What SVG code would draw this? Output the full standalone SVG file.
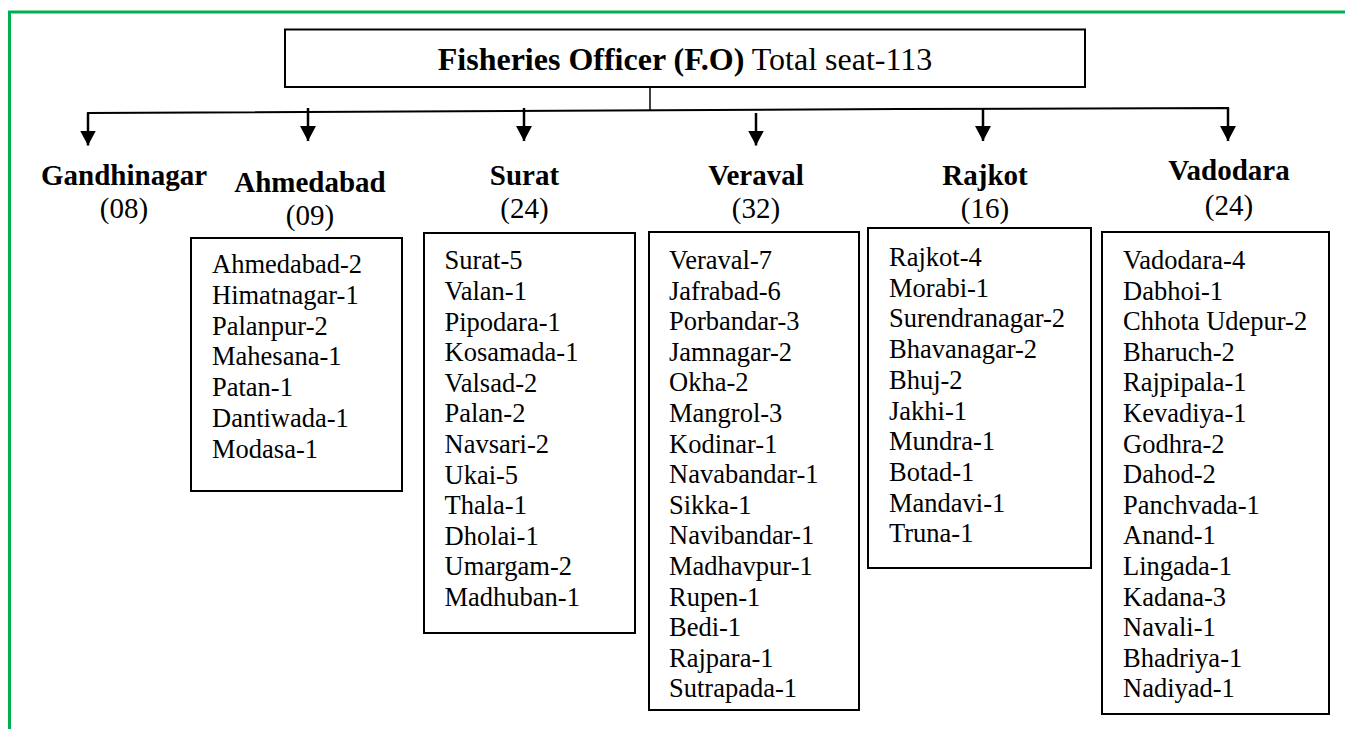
<svg xmlns="http://www.w3.org/2000/svg" width="1345" height="729" viewBox="0 0 1345 729">
<style>
.t{font-size:32px}
.h{font-size:29px;font-weight:bold;text-anchor:middle}
.n{font-size:29px;text-anchor:middle}
.l{font-size:26.5px}
.box{fill:#fff;stroke:#000;stroke-width:2}
.c{stroke:#000;fill:none}
</style>
<defs>
<marker id="ah" viewBox="0 0 15 16" refX="15" refY="8" markerWidth="15" markerHeight="16" orient="auto" markerUnits="userSpaceOnUse">
<path d="M0,0 L15,8 L0,16 z" fill="#000"/>
</marker>
</defs>
<rect width="1345" height="729" fill="#fff"/>
<g id="frame">
<path d="M9.5,729 V12 H1345" fill="none" stroke="#00B050" stroke-width="3"/>
</g>
<g id="connectors">
<line class="c" x1="650" y1="87" x2="650" y2="110.5" stroke-width="1.5"/>
<polyline class="c" points="88,121 88,113 900,109 1228,108 1228,114" stroke-width="2"/>
<line class="c" x1="88" y1="113" x2="88" y2="145.5" stroke-width="2.5" marker-end="url(#ah)"/>
<line class="c" x1="308" y1="108" x2="308" y2="141" stroke-width="2.5" marker-end="url(#ah)"/>
<line class="c" x1="524" y1="108" x2="524" y2="141" stroke-width="2.5" marker-end="url(#ah)"/>
<line class="c" x1="756" y1="113" x2="756" y2="145.5" stroke-width="2.5" marker-end="url(#ah)"/>
<line class="c" x1="983" y1="108" x2="983" y2="141" stroke-width="2.5" marker-end="url(#ah)"/>
<line class="c" x1="1228" y1="108" x2="1228" y2="141" stroke-width="2.5" marker-end="url(#ah)"/>
</g>
<g font-family="'Liberation Serif', 'Times New Roman', 'DejaVu Serif', serif" fill="#000">
<g id="title">
<rect class="box" x="285" y="29.5" width="800" height="57.5"/>
<text class="t" x="685" y="70" text-anchor="middle"><tspan font-weight="bold">Fisheries Officer (F.O)</tspan> Total seat-113</text>
</g>
<g id="gandhinagar">
<text class="h" x="124" y="185">Gandhinagar</text>
<text class="n" x="124" y="218">(08)</text>
</g>
<g id="ahmedabad">
<text class="h" x="310" y="192">Ahmedabad</text>
<text class="n" x="310" y="225">(09)</text>
<rect class="box" x="191" y="238" width="211" height="253"/>
<text class="l" x="212" y="273.3"><tspan x="212">Ahmedabad-2</tspan><tspan x="212" dy="30.7">Himatnagar-1</tspan><tspan x="212" dy="30.7">Palanpur-2</tspan><tspan x="212" dy="30.7">Mahesana-1</tspan><tspan x="212" dy="30.7">Patan-1</tspan><tspan x="212" dy="30.7">Dantiwada-1</tspan><tspan x="212" dy="30.7">Modasa-1</tspan></text>
</g>
<g id="surat">
<text class="h" x="524.5" y="185">Surat</text>
<text class="n" x="524.5" y="218">(24)</text>
<rect class="box" x="424" y="233" width="211" height="400"/>
<text class="l" x="444.5" y="269.3"><tspan x="444.5">Surat-5</tspan><tspan x="444.5" dy="30.6">Valan-1</tspan><tspan x="444.5" dy="30.6">Pipodara-1</tspan><tspan x="444.5" dy="30.6">Kosamada-1</tspan><tspan x="444.5" dy="30.6">Valsad-2</tspan><tspan x="444.5" dy="30.6">Palan-2</tspan><tspan x="444.5" dy="30.6">Navsari-2</tspan><tspan x="444.5" dy="30.6">Ukai-5</tspan><tspan x="444.5" dy="30.6">Thala-1</tspan><tspan x="444.5" dy="30.6">Dholai-1</tspan><tspan x="444.5" dy="30.6">Umargam-2</tspan><tspan x="444.5" dy="30.6">Madhuban-1</tspan></text>
</g>
<g id="veraval">
<text class="h" x="756" y="185">Veraval</text>
<text class="n" x="756" y="218">(32)</text>
<rect class="box" x="649" y="232" width="210" height="478"/>
<text class="l" x="669" y="269"><tspan x="669">Veraval-7</tspan><tspan x="669" dy="30.6">Jafrabad-6</tspan><tspan x="669" dy="30.6">Porbandar-3</tspan><tspan x="669" dy="30.6">Jamnagar-2</tspan><tspan x="669" dy="30.6">Okha-2</tspan><tspan x="669" dy="30.6">Mangrol-3</tspan><tspan x="669" dy="30.6">Kodinar-1</tspan><tspan x="669" dy="30.6">Navabandar-1</tspan><tspan x="669" dy="30.6">Sikka-1</tspan><tspan x="669" dy="30.6">Navibandar-1</tspan><tspan x="669" dy="30.6">Madhavpur-1</tspan><tspan x="669" dy="30.6">Rupen-1</tspan><tspan x="669" dy="30.6">Bedi-1</tspan><tspan x="669" dy="30.6">Rajpara-1</tspan><tspan x="669" dy="30.6">Sutrapada-1</tspan></text>
</g>
<g id="rajkot">
<text class="h" x="985" y="185">Rajkot</text>
<text class="n" x="985" y="218">(16)</text>
<rect class="box" x="868" y="228" width="223" height="340"/>
<text class="l" x="889" y="266"><tspan x="889">Rajkot-4</tspan><tspan x="889" dy="30.7">Morabi-1</tspan><tspan x="889" dy="30.7">Surendranagar-2</tspan><tspan x="889" dy="30.7">Bhavanagar-2</tspan><tspan x="889" dy="30.7">Bhuj-2</tspan><tspan x="889" dy="30.7">Jakhi-1</tspan><tspan x="889" dy="30.7">Mundra-1</tspan><tspan x="889" dy="30.7">Botad-1</tspan><tspan x="889" dy="30.7">Mandavi-1</tspan><tspan x="889" dy="30.7">Truna-1</tspan></text>
</g>
<g id="vadodara">
<text class="h" x="1229" y="180">Vadodara</text>
<text class="n" x="1229" y="215">(24)</text>
<rect class="box" x="1102" y="232" width="227" height="482"/>
<text class="l" x="1123" y="269"><tspan x="1123">Vadodara-4</tspan><tspan x="1123" dy="30.6">Dabhoi-1</tspan><tspan x="1123" dy="30.6">Chhota Udepur-2</tspan><tspan x="1123" dy="30.6">Bharuch-2</tspan><tspan x="1123" dy="30.6">Rajpipala-1</tspan><tspan x="1123" dy="30.6">Kevadiya-1</tspan><tspan x="1123" dy="30.6">Godhra-2</tspan><tspan x="1123" dy="30.6">Dahod-2</tspan><tspan x="1123" dy="30.6">Panchvada-1</tspan><tspan x="1123" dy="30.6">Anand-1</tspan><tspan x="1123" dy="30.6">Lingada-1</tspan><tspan x="1123" dy="30.6">Kadana-3</tspan><tspan x="1123" dy="30.6">Navali-1</tspan><tspan x="1123" dy="30.6">Bhadriya-1</tspan><tspan x="1123" dy="30.6">Nadiyad-1</tspan></text>
</g>
</g>
</svg>
